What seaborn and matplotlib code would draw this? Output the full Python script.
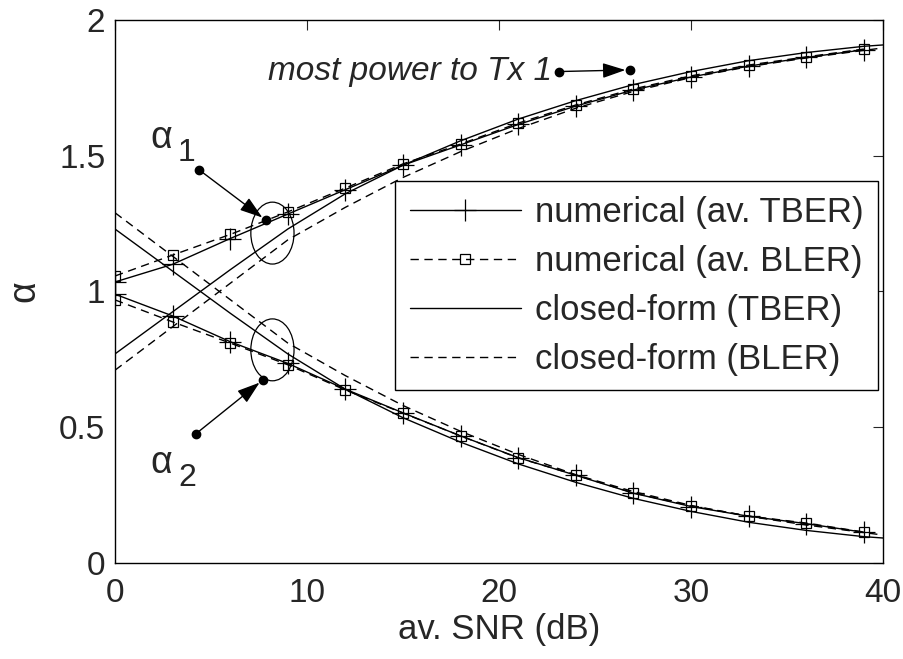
import numpy as np
import pandas as pd
import matplotlib
matplotlib.use("Agg")
import matplotlib.pyplot as plt
from matplotlib.patches import Ellipse
import seaborn as sns

# ---------------- data ----------------
snr_num = [0, 3, 6, 9, 12, 15, 18, 21, 24, 27, 30, 33, 36, 39]
snr_cf = [0, 3, 6, 9, 12, 15, 18, 21, 24, 27, 30, 33, 36, 39, 40]

# numerical (av. TBER)
num_tber_a1 = [1.035, 1.10, 1.195, 1.285, 1.375, 1.465, 1.54, 1.615, 1.683, 1.742, 1.79, 1.83, 1.862, 1.89]
num_tber_a2 = [0.99, 0.91, 0.815, 0.735, 0.64, 0.553, 0.468, 0.388, 0.323, 0.257, 0.208, 0.172, 0.145, 0.113]
# numerical (av. BLER)
num_bler_a1 = [1.057, 1.134, 1.21, 1.293, 1.381, 1.47, 1.543, 1.62, 1.687, 1.746, 1.794, 1.834, 1.864, 1.893]
num_bler_a2 = [0.969, 0.888, 0.81, 0.73, 0.637, 0.552, 0.468, 0.387, 0.324, 0.258, 0.21, 0.173, 0.147, 0.114]
# closed-form (TBER)
cf_tber_a1 = [0.77, 0.925, 1.08, 1.23, 1.36, 1.465, 1.555, 1.635, 1.703, 1.762, 1.81, 1.85, 1.88, 1.903, 1.908]
cf_tber_a2 = [1.23, 1.075, 0.92, 0.77, 0.64, 0.535, 0.445, 0.365, 0.297, 0.238, 0.19, 0.15, 0.12, 0.097, 0.092]
# closed-form (BLER)
cf_bler_a1 = [0.71, 0.87, 1.03, 1.19, 1.31, 1.42, 1.515, 1.60, 1.675, 1.737, 1.788, 1.828, 1.86, 1.888, 1.897]
cf_bler_a2 = [1.29, 1.13, 0.97, 0.81, 0.69, 0.58, 0.485, 0.40, 0.325, 0.263, 0.212, 0.172, 0.14, 0.112, 0.103]

legend_labels = ["numerical (av. TBER)", "numerical (av. BLER)",
                 "closed-form (TBER)", "closed-form (BLER)"]
xticks = [0, 10, 20, 30, 40]
yticks = [0, 0.5, 1, 1.5, 2]
yticklabels = ["0", "0.5", "1", "1.5", "2"]

# ---------------- style ----------------
sns.set_style("white")
plt.rcParams["font.family"] = ["Liberation Sans", "DejaVu Sans"]
plt.rcParams["xtick.direction"] = "in"
plt.rcParams["ytick.direction"] = "in"

fig = plt.figure(figsize=(9.04, 6.59), dpi=100)
ax = fig.add_axes([0.1272, 0.1457, 0.8496, 0.824])

dash = (0, (6, 4))

def draw(x, y, label, ls, marker, ms):
    kw = dict(color="k", linewidth=1.0, linestyle=ls, ax=ax)
    if marker is not None:
        kw.update(marker=marker, markersize=ms, markerfacecolor="none",
                  markeredgecolor="k", markeredgewidth=0.9)
    if label is not None:
        kw["label"] = label
    sns.lineplot(x=x, y=y, **kw)

draw(snr_num, num_tber_a1, legend_labels[0], "-", "+", 16)
draw(snr_num, num_tber_a2, None, "-", "+", 16)
draw(snr_num, num_bler_a1, legend_labels[1], dash, "s", 7.5)
draw(snr_num, num_bler_a2, None, dash, "s", 7.5)
draw(snr_cf, cf_tber_a1, legend_labels[2], "-", None, 0)
draw(snr_cf, cf_tber_a2, None, "-", None, 0)
draw(snr_cf, cf_bler_a1, legend_labels[3], dash, None, 0)
draw(snr_cf, cf_bler_a2, None, dash, None, 0)

ax.set_xlim(0, 40)
ax.set_ylim(0, 2)
ax.set_xticks(xticks)
ax.set_xticklabels([str(t) for t in xticks])
ax.set_yticks(yticks)
ax.set_yticklabels(yticklabels)
ax.tick_params(axis="both", which="both", labelsize=24, length=7, width=0.8,
               top=True, right=True, direction="in")
ax.tick_params(axis="x", pad=11)
ax.tick_params(axis="y", pad=7)
for s in ax.spines.values():
    s.set_visible(True)
    s.set_color("k")
    s.set_linewidth(1.0)

ax.set_xlabel("av. SNR (dB)", fontsize=25, labelpad=3)
ax.set_ylabel("α", fontsize=27, labelpad=12)

# legend
leg = ax.legend(loc="upper left", bbox_to_anchor=(0.365, 0.703),
                borderaxespad=0, fontsize=25, handlelength=3.2,
                handletextpad=0.4, labelspacing=0.46, borderpad=0.42,
                fancybox=False, framealpha=1, edgecolor="k", markerscale=1.0)
leg.get_frame().set_linewidth(1.0)

# ellipses
for cy in (1.215, 0.785):
    ax.add_patch(Ellipse((8.2, cy), 2.25, 0.228, fill=False, edgecolor="k", lw=0.9))

# arrows with dots
def dot_arrow(x0, y0, x1, y1):
    ax.annotate("", xy=(x1, y1), xytext=(x0, y0),
                arrowprops=dict(arrowstyle="-|>,head_length=1.0,head_width=0.33",
                                mutation_scale=14, color="k", lw=1.0,
                                shrinkA=0, shrinkB=3))
    ax.plot([x0, x1], [y0, y1], linestyle="none", marker="o", markersize=6, color="k")

dot_arrow(4.4, 1.447, 7.85, 1.263)
dot_arrow(4.2, 0.475, 7.7, 0.674)
dot_arrow(23.1, 1.81, 26.8, 1.816)

ax.text(22.75, 1.81, "most power to Tx 1", fontsize=24, style="italic",
        ha="right", va="center")
ax.text(2.4, 1.565, "α", fontsize=27, ha="center", va="center")
ax.text(3.75, 1.51, "1", fontsize=23, ha="center", va="center")
ax.text(2.4, 0.368, "α", fontsize=27, ha="center", va="center")
ax.text(3.75, 0.313, "2", fontsize=23, ha="center", va="center")

fig.savefig("out.png", dpi=100)
